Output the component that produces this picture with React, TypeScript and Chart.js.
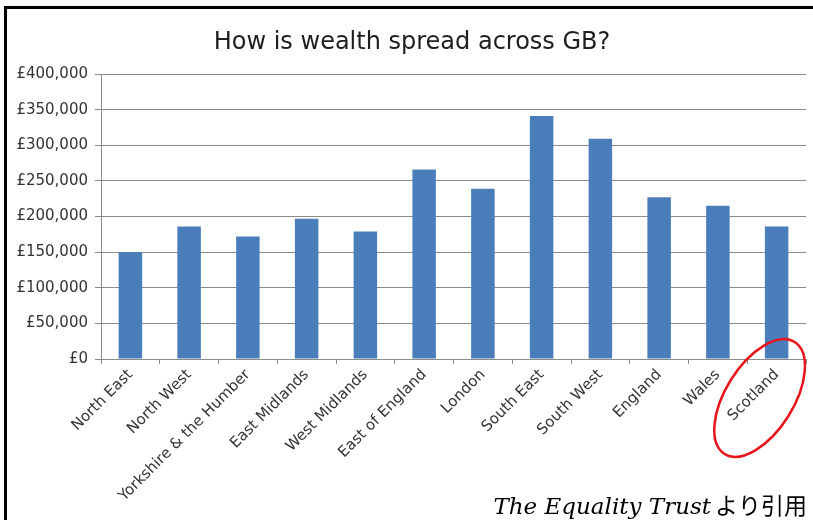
import React, { useEffect, useRef } from "react";
import { Chart, registerables } from "chart.js";

Chart.register(...registerables);

const regions = [
  "North East",
  "North West",
  "Yorkshire & the Humber",
  "East Midlands",
  "West Midlands",
  "East of England",
  "London",
  "South East",
  "South West",
  "England",
  "Wales",
  "Scotland",
];
const wealth = [150000, 186000, 172000, 197000, 179000, 266000, 239000, 341000, 309000, 227000, 215000, 186000];
const titleText = "How is wealth spread across GB?";
const sourceEn = "The Equality Trust";
const sourceJa = "より引用";
const yMin = 0;
const yMax = 400000;
const yStep = 50000;
const highlighted = "Scotland";

const decor = {
  id: "decor",
  afterDraw(chart: any) {
    const ctx = chart.ctx as CanvasRenderingContext2D;
    ctx.save();
    // frame
    ctx.fillStyle = "#000";
    ctx.fillRect(4, 6, chart.width - 4, 3);
    ctx.fillRect(4, 6, 3, chart.height - 6);
    // title
    ctx.fillStyle = "#1e1e1e";
    ctx.font = "24px 'DejaVu Sans'";
    ctx.textAlign = "center";
    ctx.textBaseline = "alphabetic";
    ctx.fillText(titleText, 412, 49);
    // source
    ctx.textAlign = "right";
    ctx.fillStyle = "#000";
    ctx.font = "23px 'Noto Sans CJK JP'";
    const jw = ctx.measureText(sourceJa).width;
    ctx.fillText(sourceJa, 807, 514);
    ctx.font = "italic 23px 'DejaVu Serif'";
    ctx.fillText(sourceEn, 807 - jw - 4, 514);
    // highlight ellipse
    const xs = chart.scales.x;
    const idx = regions.indexOf(highlighted);
    const cx = xs.getPixelForValue(idx) - 17;
    const cy = chart.chartArea.bottom + 39;
    ctx.strokeStyle = "#e8141c";
    ctx.lineWidth = 2.5;
    ctx.beginPath();
    ctx.ellipse(cx, cy, 66, 34, (-58 * Math.PI) / 180, 0, 2 * Math.PI);
    ctx.stroke();
    ctx.restore();
  },
};

export default function App() {
  const ref = useRef<HTMLCanvasElement | null>(null);
  useEffect(() => {
    if (!ref.current) return;
    const chart = new Chart(ref.current, {
      type: "bar",
      data: {
        labels: regions,
        datasets: [
          {
            data: wealth,
            backgroundColor: "#4a7ebb",
            borderWidth: 0,
            barPercentage: 0.4,
            categoryPercentage: 1,
          },
        ],
      },
      options: {
        responsive: false,
        animation: false,
        devicePixelRatio: 1,
        layout: { padding: { left: 0, top: 74, right: 7, bottom: 0 } },
        plugins: {
          legend: { display: false },
          title: { display: false },
          tooltip: { enabled: false },
        },
        scales: {
          x: {
            afterFit: (s: any) => {
              s.height = 161;
            },
            grid: {
              drawOnChartArea: false,
              drawTicks: true,
              tickLength: 5,
              color: "#8c8c8c",
            },
            border: { color: "#8c8c8c" },
            ticks: {
              autoSkip: false,
              maxRotation: 45,
              minRotation: 45,
              padding: 2,
              color: "#333333",
              font: { family: "'DejaVu Sans'", size: 15 },
            },
          },
          y: {
            min: yMin,
            max: yMax,
            afterFit: (s: any) => {
              s.width = 101;
            },
            grid: {
              color: "#8c8c8c",
              tickLength: 6,
            },
            border: { color: "#8c8c8c" },
            ticks: {
              stepSize: yStep,
              padding: 7,
              color: "#333333",
              font: { family: "'DejaVu Sans'", size: 15 },
              callback: (v: any) => "£" + Number(v).toLocaleString("en-GB"),
            },
          },
        },
      },
      plugins: [decor],
    });
    return () => chart.destroy();
  }, []);
  return (
    <div style={{ position: "absolute", left: 0, top: 0, width: 813, height: 520, background: "#fff" }}>
      <canvas ref={ref} width={813} height={520} style={{ display: "block" }} />
    </div>
  );
}
